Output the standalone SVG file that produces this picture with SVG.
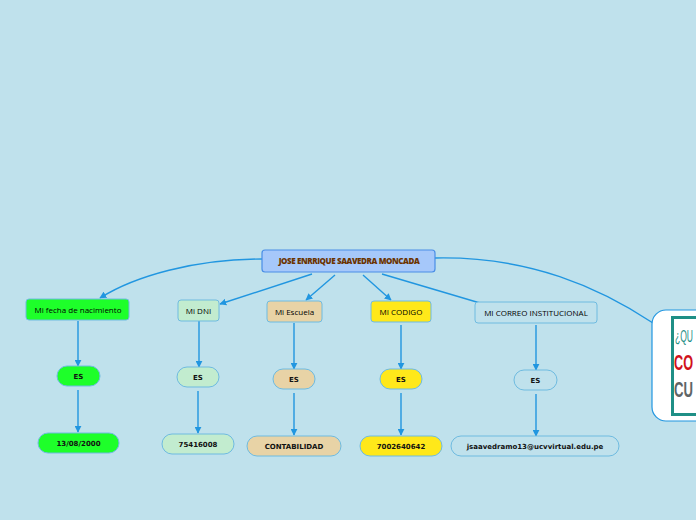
<svg xmlns="http://www.w3.org/2000/svg" width="696" height="520" viewBox="0 0 696 520">
<defs>
<marker id="arr" viewBox="0 0 10 10" refX="9" refY="5" markerWidth="7" markerHeight="7" orient="auto" markerUnits="userSpaceOnUse">
<path d="M0,0 L10,5 L0,10 z" fill="#2196e0"/>
</marker>
</defs>
<style>
.c{fill:none;stroke:#2196e0;stroke-width:1.4}
.t{font-family:"Open Sans","Liberation Sans",sans-serif;font-size:8px;fill:#000;text-anchor:middle}
.b{font-family:"DejaVu Sans",sans-serif;font-size:7px;font-weight:bold;fill:#111;text-anchor:middle}
.n{stroke:#6fbbe0;stroke-width:1}
</style>
<rect width="696" height="520" fill="#bfe1ec"/>
<g id="connectors">
<path class="c" d="M262,259 C195,259 135,276 100,298" marker-end="url(#arr)"/>
<path class="c" d="M312,274 L220,304" marker-end="url(#arr)"/>
<path class="c" d="M335,275 L306,300" marker-end="url(#arr)"/>
<path class="c" d="M363,275 L391,300" marker-end="url(#arr)"/>
<path class="c" d="M382,274 L480,303"/>
<path class="c" d="M435,258 C530,256 600,288 653,323"/>
<path class="c" d="M78,321 L78,366" marker-end="url(#arr)"/>
<path class="c" d="M78,390 L78,432" marker-end="url(#arr)"/>
<path class="c" d="M199,321 L199,367" marker-end="url(#arr)"/>
<path class="c" d="M198,391 L198,433" marker-end="url(#arr)"/>
<path class="c" d="M294,323 L294,369" marker-end="url(#arr)"/>
<path class="c" d="M294,393 L294,435" marker-end="url(#arr)"/>
<path class="c" d="M401,325 L401,369" marker-end="url(#arr)"/>
<path class="c" d="M401,393 L401,435" marker-end="url(#arr)"/>
<path class="c" d="M536,325 L536,370" marker-end="url(#arr)"/>
<path class="c" d="M536,394 L536,436" marker-end="url(#arr)"/>
</g>
<g id="root">
<rect x="262" y="250" width="173" height="22" rx="3" fill="#a6c8fa" stroke="#4a8ee6" stroke-width="1.2"/>
<text x="349" y="264" font-family="'Open Sans','Liberation Sans',sans-serif" font-size="8" font-weight="800" fill="#6b3300" text-anchor="middle" letter-spacing="-0.4">JOSE ENRRIQUE SAAVEDRA MONCADA</text>
</g>
<g id="n-fecha">
<rect class="n" x="26" y="299" width="103" height="21" rx="3" fill="#1eff2a"/>
<text class="t" x="78" y="313">Mi fecha de nacimiento</text>
</g>
<g id="n-dni">
<rect class="n" x="178" y="300" width="41" height="21" rx="3" fill="#c2eccf"/>
<text class="t" x="198.5" y="314">Mi DNI</text>
</g>
<g id="n-escuela">
<rect class="n" x="267" y="301" width="55" height="21" rx="3" fill="#e8d3a6"/>
<text class="t" x="294.5" y="315">Mi Escuela</text>
</g>
<g id="n-codigo">
<rect class="n" x="371" y="301" width="60" height="21" rx="3" fill="#ffe81a"/>
<text class="t" x="401" y="315">MI CODIGO</text>
</g>
<g id="n-correo">
<rect class="n" x="475" y="302" width="122" height="21" rx="3" fill="#bfe1ec"/>
<text class="t" x="536" y="316">MI CORREO INSTITUCIONAL</text>
</g>
<g id="es1"><rect class="n" x="57" y="366" width="43" height="20" rx="10" fill="#1eff2a" stroke="#2196e0"/><text class="b" x="78.5" y="378.5">ES</text></g>
<g id="es2"><rect class="n" x="177" y="367" width="42" height="20" rx="10" fill="#c2eccf" stroke="#2196e0"/><text class="b" x="198" y="379.5">ES</text></g>
<g id="es3"><rect class="n" x="273" y="369" width="42" height="20" rx="10" fill="#e8d3a6" stroke="#2196e0"/><text class="b" x="294" y="381.5">ES</text></g>
<g id="es4"><rect class="n" x="380" y="369" width="42" height="20" rx="10" fill="#ffe81a" stroke="#2196e0"/><text class="b" x="401" y="381.5">ES</text></g>
<g id="es5"><rect class="n" x="514" y="370" width="43" height="20" rx="10" fill="#bfe1ec" stroke="#2196e0"/><text class="b" x="535.5" y="382.5">ES</text></g>
<g id="v1"><rect class="n" x="38" y="433" width="81" height="20" rx="10" fill="#1eff2a" stroke="#2196e0"/><text class="b" x="78.5" y="445.5">13/08/2000</text></g>
<g id="v2"><rect class="n" x="162" y="434" width="72" height="20" rx="10" fill="#c2eccf" stroke="#2196e0"/><text class="b" x="198" y="446.5">75416008</text></g>
<g id="v3"><rect class="n" x="247" y="436" width="94" height="20" rx="10" fill="#e8d3a6" stroke="#2196e0"/><text class="b" x="294" y="448.5">CONTABILIDAD</text></g>
<g id="v4"><rect class="n" x="360" y="436" width="82" height="20" rx="10" fill="#ffe81a" stroke="#2196e0"/><text class="b" x="401" y="448.5">7002640642</text></g>
<g id="v5"><rect class="n" x="451" y="436" width="168" height="20" rx="10" fill="#bfe1ec" stroke="#2196e0"/><text class="b" x="535" y="448.5">jsaavedramo13@ucvvirtual.edu.pe</text></g>
<g id="n-image">
<rect x="652" y="310" width="60" height="111" rx="14" fill="#ffffff" stroke="#2196e0" stroke-width="1.2"/>
<rect x="672.5" y="317.5" width="40" height="97" fill="#ffffff" stroke="#1f8f86" stroke-width="3"/>
<text x="675" y="342" font-family="'Liberation Sans',sans-serif" font-size="16" fill="#1f8f86" textLength="18" lengthAdjust="spacingAndGlyphs">¿QU</text>
<text x="674" y="370" font-family="'Liberation Sans',sans-serif" font-size="22" font-weight="bold" fill="#d0121b" textLength="19" lengthAdjust="spacingAndGlyphs">CO</text>
<text x="674" y="397" font-family="'Liberation Sans',sans-serif" font-size="22" font-weight="bold" fill="#5f6566" textLength="19" lengthAdjust="spacingAndGlyphs">CU</text>
</g>
</svg>
